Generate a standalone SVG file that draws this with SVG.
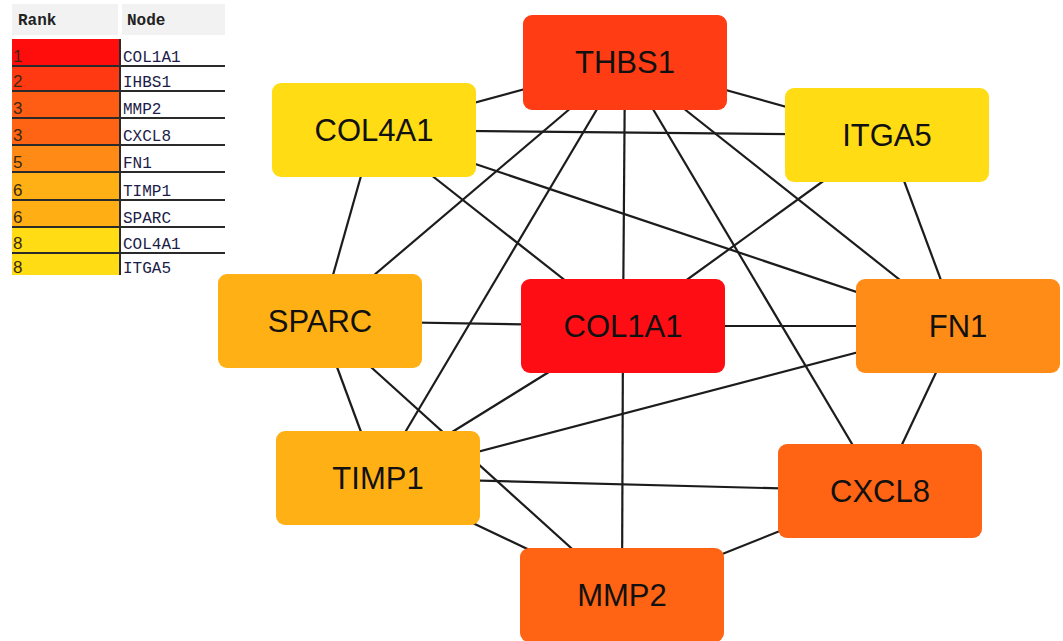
<svg xmlns="http://www.w3.org/2000/svg" width="1063" height="641" viewBox="0 0 1063 641">
<style>
.edge{stroke:#1c1c1c;stroke-width:2.2;fill:none}
.node rect{rx:9;ry:9}
.node text{font-family:"Liberation Sans",Arial,sans-serif;font-size:31px;fill:#111;text-anchor:middle}
.tb{font-family:"Liberation Mono","DejaVu Sans Mono",monospace;font-size:16px;fill:#1c1c48}
.rk{font-family:"Liberation Sans",Arial,sans-serif;font-size:17px;fill:#3a2a10}
.hd{font-family:"Liberation Mono","DejaVu Sans Mono",monospace;font-size:16px;font-weight:bold;fill:#222}
.sep{stroke:#2a2a2a;stroke-width:2}
</style>
<rect width="1063" height="641" fill="#ffffff"/>
<g id="table">
<rect x="12" y="4" width="106" height="31" fill="#f2f2f2"/>
<rect x="122" y="4" width="103" height="31" fill="#f2f2f2"/>
<text class="hd" x="18" y="25">Rank</text>
<text class="hd" x="127" y="25">Node</text>
<rect x="12" y="39" width="108" height="27" fill="#ff0c0c"/>
<rect x="12" y="66" width="108" height="25" fill="#ff3a12"/>
<rect x="12" y="91" width="108" height="27" fill="#ff5c14"/>
<rect x="12" y="118" width="108" height="27" fill="#ff6414"/>
<rect x="12" y="145" width="108" height="27" fill="#ff8a16"/>
<rect x="12" y="172" width="108" height="28" fill="#ffb014"/>
<rect x="12" y="200" width="108" height="27" fill="#ffae14"/>
<rect x="12" y="227" width="108" height="26" fill="#ffdc14"/>
<rect x="12" y="253" width="108" height="22" fill="#ffdc14"/>
<line class="sep" x1="120" y1="39" x2="120" y2="275"/>
<line class="sep" x1="12" y1="66" x2="225" y2="66"/>
<line class="sep" x1="12" y1="91" x2="225" y2="91"/>
<line class="sep" x1="12" y1="118" x2="225" y2="118"/>
<line class="sep" x1="12" y1="145" x2="225" y2="145"/>
<line class="sep" x1="12" y1="172" x2="225" y2="172"/>
<line class="sep" x1="12" y1="200" x2="225" y2="200"/>
<line class="sep" x1="12" y1="227" x2="225" y2="227"/>
<line class="sep" x1="12" y1="253" x2="225" y2="253"/>
<text class="rk" x="13" y="62">1</text><text class="tb" x="123" y="62">COL1A1</text>
<text class="rk" x="13" y="87">2</text><text class="tb" x="123" y="87">IHBS1</text>
<text class="rk" x="13" y="114">3</text><text class="tb" x="123" y="114">MMP2</text>
<text class="rk" x="13" y="141">3</text><text class="tb" x="123" y="141">CXCL8</text>
<text class="rk" x="13" y="168">5</text><text class="tb" x="123" y="168">FN1</text>
<text class="rk" x="13" y="196">6</text><text class="tb" x="123" y="196">TIMP1</text>
<text class="rk" x="13" y="223">6</text><text class="tb" x="123" y="223">SPARC</text>
<text class="rk" x="13" y="249">8</text><text class="tb" x="123" y="249">COL4A1</text>
<text class="rk" x="13" y="273">8</text><text class="tb" x="123" y="273">ITGA5</text>
</g>
<g id="edges">
<line class="edge" x1="625" y1="62" x2="374" y2="130"/>
<line class="edge" x1="625" y1="62" x2="887" y2="135"/>
<line class="edge" x1="625" y1="62" x2="320" y2="321"/>
<line class="edge" x1="625" y1="62" x2="378" y2="478"/>
<line class="edge" x1="625" y1="62" x2="623" y2="326"/>
<line class="edge" x1="625" y1="62" x2="880" y2="491"/>
<line class="edge" x1="625" y1="62" x2="958" y2="326"/>
<line class="edge" x1="374" y1="130" x2="887" y2="135"/>
<line class="edge" x1="374" y1="130" x2="958" y2="326"/>
<line class="edge" x1="374" y1="130" x2="623" y2="326"/>
<line class="edge" x1="374" y1="130" x2="320" y2="321"/>
<line class="edge" x1="887" y1="135" x2="623" y2="326"/>
<line class="edge" x1="887" y1="135" x2="958" y2="326"/>
<line class="edge" x1="320" y1="321" x2="623" y2="326"/>
<line class="edge" x1="320" y1="321" x2="378" y2="478"/>
<line class="edge" x1="320" y1="321" x2="622" y2="594"/>
<line class="edge" x1="623" y1="326" x2="958" y2="326"/>
<line class="edge" x1="623" y1="326" x2="378" y2="478"/>
<line class="edge" x1="623" y1="326" x2="622" y2="594"/>
<line class="edge" x1="378" y1="478" x2="958" y2="326"/>
<line class="edge" x1="378" y1="478" x2="880" y2="491"/>
<line class="edge" x1="378" y1="478" x2="622" y2="594"/>
<line class="edge" x1="958" y1="326" x2="880" y2="491"/>
<line class="edge" x1="880" y1="491" x2="622" y2="594"/>
</g>
<g id="THBS1" class="node"><rect x="523" y="15" width="204" height="95" fill="#ff3c14"/><text x="625" y="73">THBS1</text></g>
<g id="COL4A1" class="node"><rect x="272" y="83" width="204" height="94" fill="#ffdc14"/><text x="374" y="141">COL4A1</text></g>
<g id="ITGA5" class="node"><rect x="785" y="88" width="204" height="94" fill="#ffdc14"/><text x="887" y="146">ITGA5</text></g>
<g id="SPARC" class="node"><rect x="218" y="274" width="204" height="94" fill="#ffb014"/><text x="320" y="332">SPARC</text></g>
<g id="COL1A1" class="node"><rect x="521" y="279" width="204" height="94" fill="#ff0d14"/><text x="623" y="337">COL1A1</text></g>
<g id="FN1" class="node"><rect x="856" y="279" width="204" height="94" fill="#ff8c16"/><text x="958" y="337">FN1</text></g>
<g id="TIMP1" class="node"><rect x="276" y="431" width="204" height="94" fill="#ffb014"/><text x="378" y="489">TIMP1</text></g>
<g id="CXCL8" class="node"><rect x="778" y="444" width="204" height="94" fill="#ff6414"/><text x="880" y="502">CXCL8</text></g>
<g id="MMP2" class="node"><rect x="520" y="548" width="204" height="94" fill="#ff6414"/><text x="622" y="606">MMP2</text></g>
</svg>
